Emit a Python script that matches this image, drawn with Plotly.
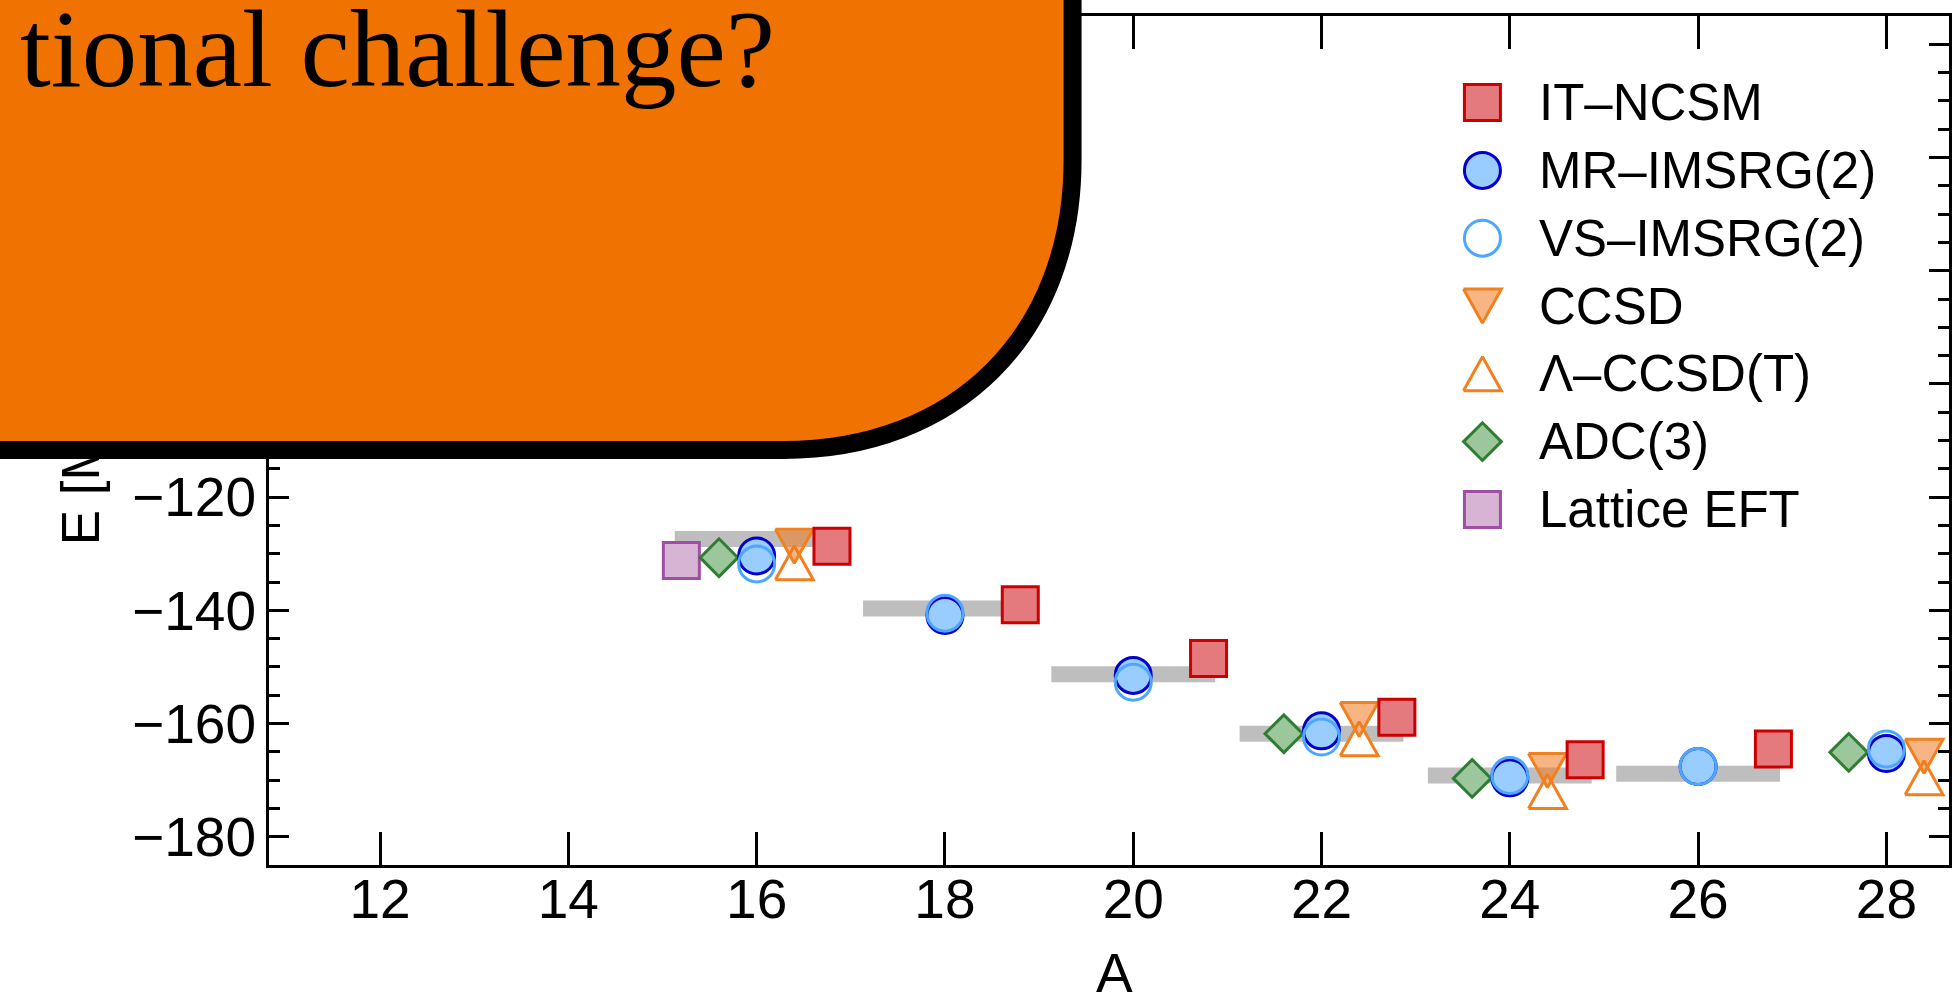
import plotly.graph_objects as go

# ---------------------------------------------------------------------------
# Ground-state energies of the oxygen isotopes, E [MeV] versus mass number A
# ---------------------------------------------------------------------------
A_exp = [16, 18, 20, 22, 24, 26]
E_exp = [-127.4, -139.7, -151.3, -161.8, -169.2, -168.9]

A_itncsm = [16, 18, 20, 22, 24, 26]
E_itncsm = [-128.7, -139.0, -148.5, -158.9, -166.4, -164.5]

A_mr = [16, 18, 20, 22, 24, 26, 28]
E_mr = [-130.4, -140.9, -151.5, -161.3, -169.6, -167.6, -165.3]

A_vs = [16, 18, 20, 22, 24, 26, 28]
E_vs = [-131.8, -140.5, -152.7, -162.4, -169.2, -167.6, -164.5]

A_ccsd = [16, 22, 24, 28]
E_ccsd = [-128.7, -159.3, -168.3, -165.8]

A_lccsdt = [16, 22, 24, 28]
E_lccsdt = [-131.6, -162.7, -172.0, -169.6]

A_adc = [16, 22, 24, 28]
E_adc = [-130.7, -161.8, -169.7, -165.1]

A_lat = [16]
E_lat = [-131.2]

x_tick_vals = [12, 14, 16, 18, 20, 22, 24, 26, 28]
y_tick_vals = [-180, -160, -140, -120, -100, -80, -60, -40]

legend_names = ["IT–NCSM", "MR–IMSRG(2)", "VS–IMSRG(2)", "CCSD",
                "Λ–CCSD(T)", "ADC(3)", "Lattice EFT"]

# ---------------------------------------------------------------------------
# geometry / style
# ---------------------------------------------------------------------------
FIG_W, FIG_H = 1953, 994
M_L, M_R, M_T, M_B = 269, 1, 16, 129
X_RANGE = [10.82, 28.665]
Y_RANGE = [-185, -35]
PLOT_W = FIG_W - M_L - M_R
PLOT_H = FIG_H - M_T - M_B
SX = (X_RANGE[1] - X_RANGE[0]) / PLOT_W     # data units per pixel
SY = (Y_RANGE[1] - Y_RANGE[0]) / PLOT_H

SANS = "Liberation Sans, Arial, sans-serif"
SERIF = "Liberation Serif, Times New Roman, serif"
ORANGE_BOX = "#F07200"

# horizontal offsets of each method around the integer mass number
OFFSET = {"lat": -0.8, "adc": -0.4, "mr": 0.0, "vs": 0.0, "cc": 0.4, "it": 0.8}
BAR_HALF = 0.87

STYLE = {
    "it":  dict(symbol="square", size=36, color="#E47A7E", line=dict(color="#CC0000", width=3)),
    "mr":  dict(symbol="circle", size=36, color="#99CCFF", line=dict(color="#0000CC", width=3)),
    "vs":  dict(symbol="circle", size=36, color="rgba(0,0,0,0)", line=dict(color="#4DA6FF", width=3)),
    "adc": dict(symbol="diamond", size=29, color="#9CC79C", line=dict(color="#2E7D32", width=3)),
    "lat": dict(symbol="square", size=36, color="#D8B4D4", line=dict(color="#9E4FA5", width=3)),
}
CC_LINE = "#F08020"
CCSD_FILL = "rgba(240,120,30,0.55)"
TRI_W, TRI_H = 38, 34


def paper_x(px):
    return (px - M_L) / PLOT_W


def paper_y(py):
    return (FIG_H - M_B - py) / PLOT_H


def shift(xs, key):
    return [a + OFFSET[key] for a in xs]


def triangles(xs, ys, down, sx, sy):
    """Closed triangle outlines around (x, y); sx, sy convert pixels to axis units
    (sy > 0 when the axis grows upwards)."""
    X, Y = [], []
    for x, y in zip(xs, ys):
        if down:
            pts = [(-TRI_W / 2, -TRI_H / 2), (TRI_W / 2, -TRI_H / 2), (0, TRI_H / 2)]
        else:
            pts = [(-TRI_W / 2, TRI_H / 2), (TRI_W / 2, TRI_H / 2), (0, -TRI_H / 2)]
        pts.append(pts[0])
        for dx, dy in pts:
            X.append(x + dx * sx)
            Y.append(y - dy * sy)
        X.append(None)
        Y.append(None)
    return X, Y


fig = go.Figure()

# experimental values as broad grey bars
bx, by = [], []
for a, e in zip(A_exp, E_exp):
    bx += [a - BAR_HALF, a + BAR_HALF, None]
    by += [e, e, None]
fig.add_trace(go.Scatter(x=bx, y=by, mode="lines", line=dict(color="#BEBEBE", width=16),
                         hoverinfo="skip", name="Experiment"))

fig.add_trace(go.Scatter(x=shift(A_lat, "lat"), y=E_lat, mode="markers",
                         marker=STYLE["lat"], name="Lattice EFT"))
fig.add_trace(go.Scatter(x=shift(A_adc, "adc"), y=E_adc, mode="markers",
                         marker=STYLE["adc"], name="ADC(3)"))
fig.add_trace(go.Scatter(x=shift(A_mr, "mr"), y=E_mr, mode="markers",
                         marker=STYLE["mr"], name="MR-IMSRG(2)"))
fig.add_trace(go.Scatter(x=shift(A_vs, "vs"), y=E_vs, mode="markers",
                         marker=STYLE["vs"], name="VS-IMSRG(2)"))

tx, ty = triangles(shift(A_lccsdt, "cc"), E_lccsdt, False, SX, SY)
fig.add_trace(go.Scatter(x=tx, y=ty, mode="lines", fill="toself", fillcolor="white",
                         line=dict(color=CC_LINE, width=3), name="Λ-CCSD(T)"))
tx, ty = triangles(shift(A_ccsd, "cc"), E_ccsd, True, SX, SY)
fig.add_trace(go.Scatter(x=tx, y=ty, mode="lines", fill="toself", fillcolor=CCSD_FILL,
                         line=dict(color=CC_LINE, width=3), name="CCSD"))

fig.add_trace(go.Scatter(x=shift(A_itncsm, "it"), y=E_itncsm, mode="markers",
                         marker=STYLE["it"], name="IT-NCSM"))

# ---------------------------------------------------------------------------
# legend drawn on a pixel-unit overlay axis pair
# ---------------------------------------------------------------------------
LEG_X_MARK, LEG_X_TEXT = 1484.6, 1541.7
LEG_Y0, LEG_DY = 102.6, 67.8
leg_y = [LEG_Y0 + i * LEG_DY for i in range(len(legend_names))]
leg_keys = ["it", "mr", "vs", "ccsd", "lccsdt", "adc", "lat"]

for key, yy in zip(leg_keys, leg_y):
    if key in STYLE:
        fig.add_trace(go.Scatter(x=[LEG_X_MARK], y=[yy], xaxis="x2", yaxis="y2",
                                 mode="markers", marker=STYLE[key], hoverinfo="skip"))
    else:
        down = key == "ccsd"
        tx, ty = triangles([LEG_X_MARK], [yy], down, 1.0, -1.0)
        fig.add_trace(go.Scatter(x=tx, y=ty, xaxis="x2", yaxis="y2", mode="lines",
                                 fill="toself",
                                 fillcolor=CCSD_FILL if down else "white",
                                 line=dict(color=CC_LINE, width=3), hoverinfo="skip"))

annotations = []

# y-axis title
annotations.append(dict(text="E [MeV]", textangle=-90, showarrow=False,
                        xref="paper", yref="paper", x=paper_x(80), y=paper_y(451),
                        xanchor="center", yanchor="middle", borderpad=0, borderwidth=0,
                        font=dict(family=SANS, size=53, color="black")))
# x-axis title
annotations.append(dict(text="A", showarrow=False, xref="paper", yref="paper",
                        x=paper_x(1116), y=paper_y(942), xanchor="center", yanchor="top",
                        borderpad=0, borderwidth=0,
                        font=dict(family=SANS, size=55, color="black")))
# orange panel continues over the upper part of the y-axis title
annotations.append(dict(text="", showarrow=False, xref="paper", yref="paper",
                        x=paper_x(-10), y=paper_y(130), xanchor="left", yanchor="top",
                        width=260, height=311, bgcolor=ORANGE_BOX, borderpad=0,
                        borderwidth=0))
# legend labels
for name, yy in zip(legend_names, leg_y):
    annotations.append(dict(text=name, showarrow=False, xref="x2", yref="y2",
                            x=LEG_X_TEXT, y=yy, xanchor="left", yanchor="middle",
                            borderpad=0, borderwidth=0,
                            font=dict(family=SANS, size=51, color="black")))
# headline inside the orange panel
annotations.append(dict(text="tional challenge?", showarrow=False,
                        xref="paper", yref="paper", x=paper_x(776), y=paper_y(-13),
                        xanchor="right", yanchor="top", borderpad=0, borderwidth=0,
                        font=dict(family=SERIF, size=111, color="black")))

# orange rounded panel (bottom-right corner rounded)
XR, YB, RAD, K = 1074, 450, 290, 0.6
pts = [(-60, -60), (XR, -60), (XR, YB - RAD)]
c1 = (XR, YB - RAD + K * RAD)
c2 = (XR - RAD + K * RAD, YB)
end = (XR - RAD, YB)


def pp(p):
    return f"{paper_x(p[0]):.5f},{paper_y(p[1]):.5f}"


panel_path = (f"M {pp(pts[0])} L {pp(pts[1])} L {pp(pts[2])} "
              f"C {pp(c1)} {pp(c2)} {pp(end)} L {pp((-60, YB))} Z")

axis_common = dict(showline=True, linewidth=3, linecolor="black", mirror="ticks",
                   ticks="inside", tickwidth=2.5, tickcolor="black",
                   showgrid=False, zeroline=False,
                   tickfont=dict(family=SANS, size=55, color="black"))

fig.update_layout(
    width=FIG_W, height=FIG_H,
    margin=dict(l=M_L, r=M_R, t=M_T, b=M_B),
    paper_bgcolor="white", plot_bgcolor="white",
    showlegend=False,
    xaxis=dict(range=X_RANGE, tickvals=x_tick_vals, ticklen=33,
               ticklabelstandoff=-16, **axis_common),
    yaxis=dict(range=Y_RANGE, tickvals=y_tick_vals, ticklen=20,
               ticklabelstandoff=-1,
               minor=dict(dtick=5, tick0=0, ticks="inside", ticklen=11,
                          tickwidth=2.5, tickcolor="black", showgrid=False),
               **axis_common),
    xaxis2=dict(range=[M_L, FIG_W - M_R], overlaying="x", visible=False),
    yaxis2=dict(range=[FIG_H - M_B, M_T], overlaying="y", visible=False),
    shapes=[dict(type="path", path=panel_path, xref="paper", yref="paper",
                 fillcolor=ORANGE_BOX, line=dict(color="black", width=18),
                 layer="above")],
    annotations=annotations,
)

fig.write_html("out.html")
